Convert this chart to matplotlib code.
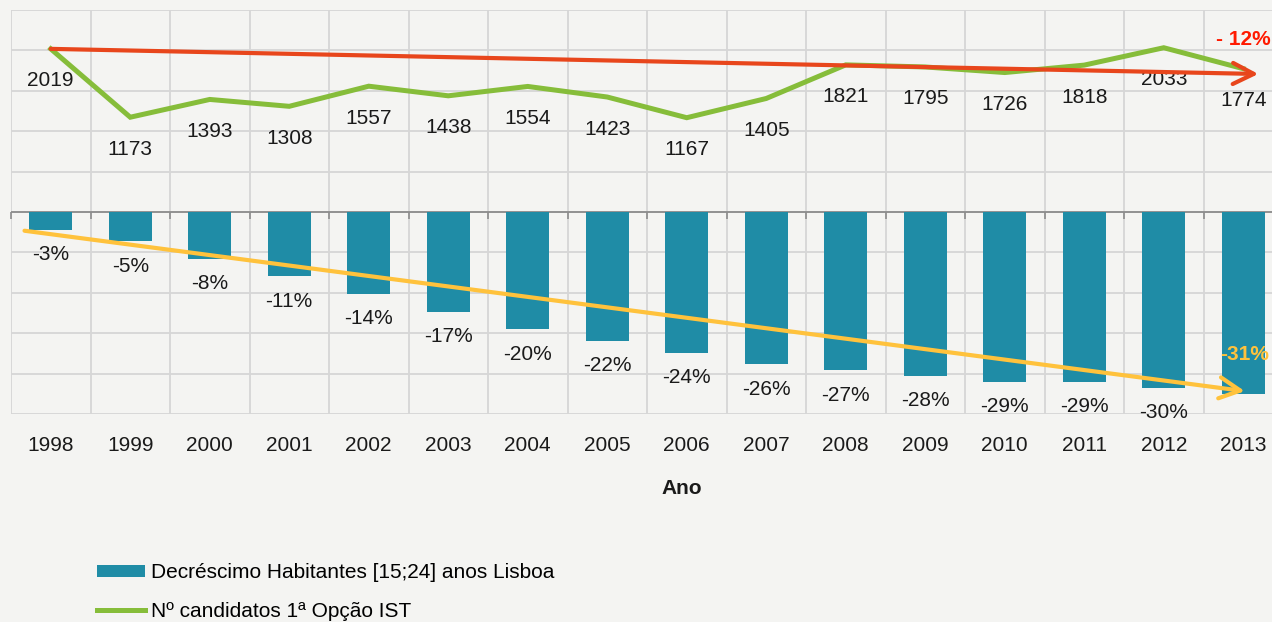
import numpy as np
import matplotlib.pyplot as plt
from matplotlib.patches import Patch
from matplotlib.lines import Line2D
from matplotlib.markers import TICKDOWN

plt.rcParams['font.family'] = ['Liberation Sans', 'DejaVu Sans']

# ---------------- data ---------------- #
anos = ['1998', '1999', '2000', '2001', '2002', '2003', '2004', '2005',
        '2006', '2007', '2008', '2009', '2010', '2011', '2012', '2013']
decrescimo = [-3, -5, -8, -11, -14, -17, -20, -22, -24, -26, -27, -28, -29, -29, -30, -31]
candidatos = [2019, 1173, 1393, 1308, 1557, 1438, 1554, 1423, 1167, 1405,
              1821, 1795, 1726, 1818, 2033, 1774]

serie_barras = 'Decréscimo Habitantes [15;24] anos Lisboa'
serie_linha = 'Nº candidatos 1ª Opção IST'

# trend arrows (hand drawn in the original)
seta_cand_x = [0, 15.19]
seta_cand_y = [2019, 1708]
seta_hab_x = [-0.33, 15.02]
seta_hab_y = [-3.2, -30.6]
texto_cand = '- 12%'
texto_hab = '-31%'

# ---------------- style ---------------- #
fundo = '#f4f4f2'
azul = '#1f8ca6'
verde = '#86bd3a'
vermelho = '#e8461c'
amarelo = '#ffc23c'
grelha = '#d6d6d6'
fs = 15

fig = plt.figure(figsize=(12.72, 6.22), dpi=100, facecolor=fundo)
ax = fig.add_axes([11 / 1272, 208 / 622, 1272 / 1272, 404 / 622])
ax.set_facecolor(fundo)

x = np.arange(len(anos))
limites = np.arange(-0.5, len(anos), 1.0)
lim_pct = 34.5
ax.set_xlim(-0.5, len(anos) - 0.5)
ax.set_ylim(-lim_pct, lim_pct)

# grid
ax.set_yticks(np.linspace(-lim_pct, lim_pct, 11))
ax.set_xticks(limites, minor=True)
ax.grid(True, which='major', axis='y', color=grelha, lw=1.3)
ax.grid(True, which='minor', axis='x', color=grelha, lw=1.3)
ax.set_axisbelow(True)
ax.tick_params(axis='y', length=0, labelleft=False)
ax.tick_params(axis='x', which='both', length=0)
ax.set_xticks(x)
ax.set_xticklabels(anos, fontsize=fs, color='#1a1a1a')
ax.tick_params(axis='x', pad=16)
for s in ax.spines.values():
    s.set_visible(False)

ax.bar(x, decrescimo, width=0.54, color=azul, zorder=2)
for xi, v in zip(x[:-1], decrescimo[:-1]):
    ax.annotate(f'{v}%', (xi, v), xytext=(0, -25), textcoords='offset pixels',
                ha='center', va='center', fontsize=fs, color='#1a1a1a')

# zero line with small tick marks
ax.axhline(0, color='#8c8c8c', lw=1.3, zorder=1.5)
ax.plot(limites, np.zeros(len(limites)), ls='none', marker=TICKDOWN, ms=5,
        mew=1.2, color='#8c8c8c', zorder=1.6, clip_on=False)

# secondary axis for the line
ax2 = ax.twinx()
ax2.set_ylim(-2500, 2500)
ax2.set_yticks([])
ax2.patch.set_visible(False)
for s in ax2.spines.values():
    s.set_visible(False)

ax2.plot(x, candidatos, color=verde, lw=3.6, solid_joinstyle='miter', zorder=3)
for xi, v in zip(x, candidatos):
    ax2.annotate(f'{v}', (xi, v), xytext=(0, -32), textcoords='offset pixels',
                 ha='center', va='center', fontsize=fs, color='#1a1a1a')

# trend arrows
ax2.annotate('', xy=(seta_cand_x[1], seta_cand_y[1]), xytext=(seta_cand_x[0], seta_cand_y[0]),
             arrowprops=dict(arrowstyle='->,head_length=0.75,head_width=0.38', color=vermelho,
                             lw=3, shrinkA=0, shrinkB=0, mutation_scale=20), zorder=4)
ax2.annotate('', xy=(seta_hab_x[1], seta_hab_y[1]), xytext=(seta_hab_x[0], seta_hab_y[0]),
             xycoords=ax.transData, textcoords=ax.transData,
             arrowprops=dict(arrowstyle='->,head_length=0.75,head_width=0.38', color=amarelo,
                             lw=3, shrinkA=0, shrinkB=0, mutation_scale=20), zorder=4)

ax2.text(15, 2140, texto_cand, color='#ff1a00', fontsize=fs, fontweight='bold',
         ha='center', va='center')
ax.text(15.02, -24.4, texto_hab, color=amarelo, fontsize=fs, fontweight='bold',
        ha='center', va='center', zorder=5)

fig.text(682 / 1272, 1 - 489 / 622, 'Ano', fontsize=fs, fontweight='bold',
         ha='center', va='center', color='#1a1a1a')

handles = [Patch(facecolor=azul, edgecolor='none'),
           Line2D([0], [0], color=verde, lw=3.6)]
fig.legend(handles, [serie_barras, serie_linha], loc='upper left',
           bbox_to_anchor=(97 / 1272, 1 - 563 / 622), frameon=False,
           fontsize=fs, handlelength=2.3, handleheight=0.5, handletextpad=0.3,
           labelspacing=0.95, borderpad=0, borderaxespad=0)

fig.savefig('out.png', dpi=100, facecolor=fundo)
